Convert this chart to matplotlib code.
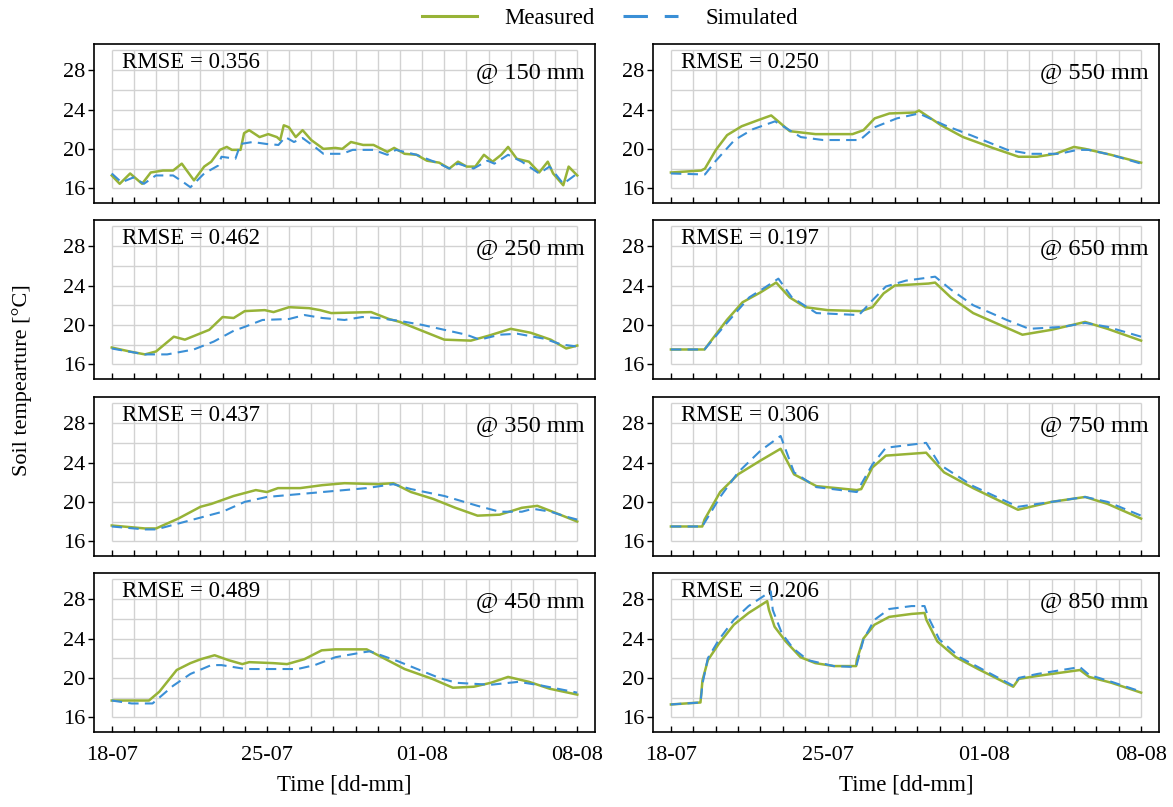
import matplotlib

matplotlib.use("Agg")

import matplotlib.pyplot as plt
from matplotlib.lines import Line2D
import numpy as np

plt.rcParams["font.family"] = ["Liberation Serif", "DejaVu Serif"]

# days since 18-07
d150_days_m = [0, 0.36, 0.83, 1.37, 1.76, 2.31, 2.77, 3.16, 3.32, 3.71, 4.17, 4.49, 4.88, 5.19, 5.42,
               5.81, 5.97, 6.2, 6.67, 7.06, 7.45, 7.6, 7.76, 7.99, 8.3, 8.61, 9.0, 9.55, 10.09, 10.4,
               10.79, 11.34, 11.81, 12.43, 12.74, 13.21, 13.75, 14.22, 14.77, 15.23, 15.62, 16.01,
               16.4, 16.79, 17.18, 17.57, 17.88, 18.27, 18.82, 19.28, 19.67, 19.91, 20.37, 20.61, 21]
d150_meas = [17.3, 16.45, 17.5, 16.45, 17.6, 17.8, 17.8, 18.5, 18.0, 16.8, 18.2, 18.7, 19.9, 20.2, 19.9,
             19.9, 21.6, 21.9, 21.2, 21.5, 21.2, 20.9, 22.4, 22.2, 21.2, 21.9, 20.9, 20.0, 20.1, 20.0,
             20.7, 20.4, 20.4, 19.7, 20.1, 19.5, 19.4, 18.8, 18.6, 18.0, 18.7, 18.2,
             18.2, 19.4, 18.7, 19.4, 20.2, 19.0, 18.7, 17.6, 18.7, 17.5, 16.3, 18.2, 17.3]
d150_days_s = [0, 0.44, 0.98, 1.45, 1.99, 2.77, 3.24, 3.55, 4.17, 4.8, 4.95, 5.58, 5.81, 6.36, 6.98,
               7.52, 7.83, 8.22, 8.61, 9.16, 9.55, 10.4, 10.87, 11.81, 12.43, 12.82, 13.75, 14.77,
               15.23, 15.62, 16.32, 16.95, 17.26, 17.88, 18.5, 19.28, 19.75, 20.37, 21]
d150_sim = [17.5, 16.6, 17.1, 16.45, 17.3, 17.3, 16.6, 16.1, 17.5, 18.3, 19.2, 19.0, 20.5, 20.7, 20.5,
            20.4, 21.2, 20.7, 21.1, 20.2, 19.5, 19.5, 19.9, 19.9, 19.4, 19.9, 19.4, 18.5,
            18.0, 18.5, 18.0, 18.8, 18.5, 19.4, 18.7, 17.5, 18.2, 16.45, 17.5]

d250_days_m = [0, 0.8, 1.5, 2.0, 2.8, 3.3, 4.4, 5.0, 5.5, 6.0, 6.9, 7.3, 8.0, 8.9, 9.4, 9.9, 11.7,
               12.5, 13.0, 14.0, 15.0, 16.2, 17.0, 18.0, 18.9, 19.8, 20.5, 21.0]
d250_meas = [17.7, 17.3, 17.0, 17.3, 18.8, 18.5, 19.5, 20.8, 20.7, 21.4, 21.5, 21.3, 21.8, 21.7, 21.5,
             21.2, 21.3, 20.6, 20.3, 19.4, 18.5, 18.4, 18.9, 19.6, 19.2, 18.5, 17.6, 17.9]
d250_days_s = [0, 1.5, 2.5, 3.7, 4.6, 5.5, 6.0, 6.8, 8.0, 8.7, 9.5, 10.5, 11.3, 12.0, 13.0, 14.0,
               15.0, 16.0, 16.6, 17.5, 18.3, 19.5, 20.3, 21.0]
d250_sim = [17.6, 17.0, 17.0, 17.5, 18.3, 19.4, 19.8, 20.5, 20.6, 21.0, 20.7, 20.5, 20.8, 20.7, 20.4,
            20.0, 19.5, 19.0, 18.5, 19.0, 19.1, 18.6, 18.0, 17.8]

d350_days_m = [0, 1.5, 2.0, 3.0, 4.0, 4.5, 5.5, 6.5, 7.0, 7.5, 8.5, 9.5, 10.5, 12.0, 12.7, 13.5,
               14.5, 15.5, 16.5, 17.5, 18.5, 19.2, 20.0, 21.0]
d350_meas = [17.6, 17.3, 17.3, 18.3, 19.5, 19.8, 20.6, 21.2, 21.0, 21.4, 21.4, 21.7, 21.9, 21.8, 21.9,
             21.0, 20.3, 19.4, 18.6, 18.7, 19.4, 19.6, 18.9, 18.0]
d350_days_s = [0, 1.5, 2.0, 3.0, 4.0, 5.0, 6.0, 7.0, 8.5, 10.0, 11.5, 12.7, 13.5, 15.0, 16.5, 17.5,
               18.5, 19.0, 19.8, 20.5, 21.0]
d350_sim = [17.5, 17.2, 17.2, 17.8, 18.4, 19.0, 20.0, 20.5, 20.8, 21.1, 21.4, 21.8, 21.3, 20.6, 19.6,
            19.0, 19.0, 19.3, 19.0, 18.5, 18.2]

d450_days_m = [0, 1.68, 2.15, 2.93, 3.55, 4.02, 4.64, 5.27, 5.89, 6.2, 7.29, 7.91, 8.69, 9.47, 10.09,
               11.5, 12.27, 13.21, 14.46, 15.39, 16.33, 17.1, 17.88, 18.82, 19.75, 21.0]
d450_meas = [17.7, 17.7, 18.6, 20.8, 21.5, 21.9, 22.3, 21.8, 21.4, 21.6, 21.5, 21.4, 21.9, 22.8, 22.9,
             22.9, 22.0, 20.9, 19.9, 19.0, 19.1, 19.5, 20.1, 19.6, 18.9, 18.3]
d450_days_s = [0, 0.9, 1.84, 2.77, 3.55, 4.49, 4.95, 6.04, 8.38, 9.16, 10.09, 11.34, 11.65, 12.9,
               14.77, 15.55, 17.1, 18.35, 19.44, 21.0]
d450_sim = [17.7, 17.4, 17.4, 19.2, 20.4, 21.3, 21.3, 20.9, 20.9, 21.3, 22.1, 22.6, 22.7, 21.7,
            20.0, 19.5, 19.3, 19.6, 19.2, 18.5]

d550_days_m = [0, 1.35, 1.52, 2.01, 2.51, 3.16, 3.99, 4.48, 5.31, 6.46, 8.11, 8.6, 9.1, 9.76, 10.91,
               11.08, 12.07, 13.05, 14.37, 15.53, 16.35, 17.18, 18.0, 18.5, 19.65, 21.0]
d550_meas = [17.6, 17.8, 18.0, 19.9, 21.4, 22.3, 23.0, 23.4, 21.8, 21.5, 21.5, 21.9, 23.1, 23.6, 23.7,
             23.9, 22.4, 21.2, 20.1, 19.2, 19.2, 19.5, 20.2, 20.0, 19.4, 18.6]
d550_days_s = [0, 1.52, 2.01, 2.84, 3.66, 4.65, 5.8, 6.79, 8.44, 9.1, 10.09, 11.08, 12.23, 13.38,
               15.03, 16.02, 17.34, 18.16, 18.66, 19.65, 21.0]
d550_sim = [17.5, 17.4, 18.8, 20.9, 22.0, 22.8, 21.2, 20.9, 20.9, 22.2, 23.1, 23.6, 22.4, 21.4,
            19.9, 19.5, 19.5, 19.9, 19.9, 19.4, 18.5]

d650_days_m = [0, 1.5, 2.5, 3.2, 4.0, 4.7, 5.3, 6.0, 7.0, 8.5, 9.0, 9.5, 10.0, 11.5, 11.8, 12.5,
               13.5, 14.8, 15.7, 17.0, 18.5, 19.5, 21.0]
d650_meas = [17.5, 17.5, 20.5, 22.3, 23.3, 24.3, 22.8, 21.8, 21.5, 21.4, 21.8, 23.2, 24.0, 24.2, 24.3,
             22.8, 21.2, 19.9, 19.0, 19.5, 20.3, 19.6, 18.4]
d650_days_s = [0, 1.5, 2.5, 3.5, 4.2, 4.8, 5.4, 6.5, 8.4, 9.0, 9.6, 10.5, 11.8, 12.5, 13.5, 15.0,
               16.0, 17.5, 18.5, 19.5, 21.0]
d650_sim = [17.5, 17.5, 20.2, 22.8, 23.8, 24.7, 22.8, 21.2, 21.0, 22.5, 23.9, 24.5, 24.9, 23.6, 22.0,
            20.5, 19.6, 19.8, 20.2, 19.8, 18.8]

d750_days_m = [0, 1.4, 1.5, 2.2, 3.0, 4.0, 4.9, 5.5, 6.5, 8.3, 8.5, 9.0, 9.6, 11.4, 12.2, 13.5,
               15.5, 17.0, 18.5, 19.5, 21.0]
d750_meas = [17.5, 17.5, 18.2, 21.0, 22.8, 24.2, 25.4, 22.8, 21.6, 21.2, 21.3, 23.5, 24.7, 25.0, 23.0,
             21.4, 19.2, 20.0, 20.5, 19.8, 18.3]
d750_days_s = [0, 1.4, 2.2, 3.0, 4.0, 4.9, 5.5, 6.5, 8.3, 9.0, 9.6, 11.4, 12.0, 13.5, 15.5, 17.0,
               18.5, 19.5, 21.0]
d750_sim = [17.5, 17.5, 20.5, 23.0, 25.2, 26.7, 23.0, 21.5, 21.0, 23.8, 25.5, 26.0, 23.8, 21.6, 19.5,
            20.0, 20.5, 20.0, 18.6]

d850_days_m = [0, 1.32, 1.41, 1.65, 2.15, 2.81, 3.47, 4.3, 4.38, 4.63, 5.13, 5.79, 6.45, 7.28, 8.27,
               8.3, 8.6, 9.09, 9.75, 10.75, 11.33, 11.41, 11.9, 12.73, 13.72, 15.29, 15.54, 16.37,
               18.27, 18.68, 19.68, 21.0]
d850_meas = [17.3, 17.5, 19.75, 21.8, 23.5, 25.4, 26.6, 27.8, 26.9, 25.2, 23.7, 22.1, 21.5, 21.2, 21.2,
             21.8, 24.0, 25.4, 26.2, 26.5, 26.6, 25.9, 23.7, 22.1, 20.9, 19.1, 19.9, 20.2,
             20.8, 20.1, 19.5, 18.5]
d850_days_s = [0, 1.32, 1.41, 1.65, 2.15, 2.81, 3.47, 4.13, 4.46, 4.55, 4.96, 5.46, 6.12, 7.28, 8.27,
               8.6, 9.09, 9.75, 10.75, 11.33, 11.49, 11.99, 12.9, 13.72, 15.29, 15.54, 16.37, 18.27,
               18.68, 19.68, 21.0]
d850_sim = [17.3, 17.5, 19.4, 22.0, 23.9, 25.9, 27.3, 28.3, 28.8, 26.9, 24.5, 23.0, 21.8, 21.2, 21.1,
            23.9, 25.9, 27.0, 27.3, 27.3, 26.2, 23.9, 22.1, 21.1, 19.2, 20.0, 20.4, 21.1,
            20.3, 19.6, 18.6]

depths = ["150", "250", "350", "450", "550", "650", "750", "850"]
rmse = ["0.356", "0.462", "0.437", "0.489", "0.250", "0.197", "0.306", "0.206"]
date_labels = ["18-07", "25-07", "01-08", "08-08"]
date_label_days = [0, 7, 14, 21]

series = [
    (d150_days_m, d150_meas, d150_days_s, d150_sim),
    (d250_days_m, d250_meas, d250_days_s, d250_sim),
    (d350_days_m, d350_meas, d350_days_s, d350_sim),
    (d450_days_m, d450_meas, d450_days_s, d450_sim),
    (d550_days_m, d550_meas, d550_days_s, d550_sim),
    (d650_days_m, d650_meas, d650_days_s, d650_sim),
    (d750_days_m, d750_meas, d750_days_s, d750_sim),
    (d850_days_m, d850_meas, d850_days_s, d850_sim),
]

GREEN = "#97b337"
BLUE = "#3a8fd6"
GRID = "#d2d2d2"

W, H = 1173, 807
fig = plt.figure(figsize=(W / 100, H / 100), dpi=100)

# panel frames in pixels
col_x = [94, 653]
col_w = [501, 506]
row_y = [44, 220, 397, 573]
panel_h = 159

day_ticks = np.arange(0, 22)
grid_y = np.arange(16, 31, 2)

axes = []
for i, (dm, m, ds, s) in enumerate(series):
    col, row = divmod(i, 4)
    rect = [col_x[col] / W, 1 - (row_y[row] + panel_h) / H, col_w[col] / W, panel_h / H]
    ax = fig.add_axes(rect)
    axes.append(ax)

    # grid only covers the data range, not the padding inside the frame
    ax.hlines(grid_y, 0, 21, color=GRID, lw=1.0, zorder=0)
    ax.vlines(day_ticks, 16, 30, color=GRID, lw=1.0, zorder=0)

    ax.plot(dm, m, color=GREEN, lw=1.8, zorder=3)
    ax.plot(ds, s, color=BLUE, lw=1.5, dashes=(5, 3), zorder=4)

    ax.set_xlim(-0.8, 21.8)
    ax.set_ylim(14.5, 30.66)
    ax.set_yticks([16, 20, 24, 28])
    ax.set_xticks(day_ticks)
    ax.tick_params(axis="y", direction="out", length=4, width=1, pad=2, labelsize=16)
    ax.tick_params(axis="x", direction="in", length=4, width=1, pad=10, labelsize=16)
    if row == 3:
        ax.set_xticklabels([date_labels[date_label_days.index(d)] if d in date_label_days else ""
                            for d in day_ticks])
        ax.set_xlabel("Time [dd-mm]", fontsize=16.5, labelpad=7)
    else:
        ax.set_xticklabels([])
    for sp in ax.spines.values():
        sp.set_linewidth(1.2)

    ax.text(0.056, 0.886, f"RMSE = {rmse[i]}", transform=ax.transAxes,
            fontsize=16.5, ha="left", va="center")
    ax.text(0.98, 0.823, f"@ {depths[i]} mm", transform=ax.transAxes,
            fontsize=17.5, ha="right", va="center")

fig.text(22 / W, 1 - 380 / H, "Soil tempearture [°C]", rotation=90,
         ha="center", va="center", fontsize=16)

handles = [
    Line2D([], [], color=GREEN, lw=2.2),
    Line2D([], [], color=BLUE, lw=2.2, dashes=(8, 5.5)),
]
fig.legend(handles, ["Measured", "Simulated"], loc="center", bbox_to_anchor=(0.52, 0.977),
           ncol=2, frameon=False, fontsize=16.5, handlelength=2.4, handletextpad=1.2,
           columnspacing=1.2)

plt.savefig("out.png", dpi=100)
